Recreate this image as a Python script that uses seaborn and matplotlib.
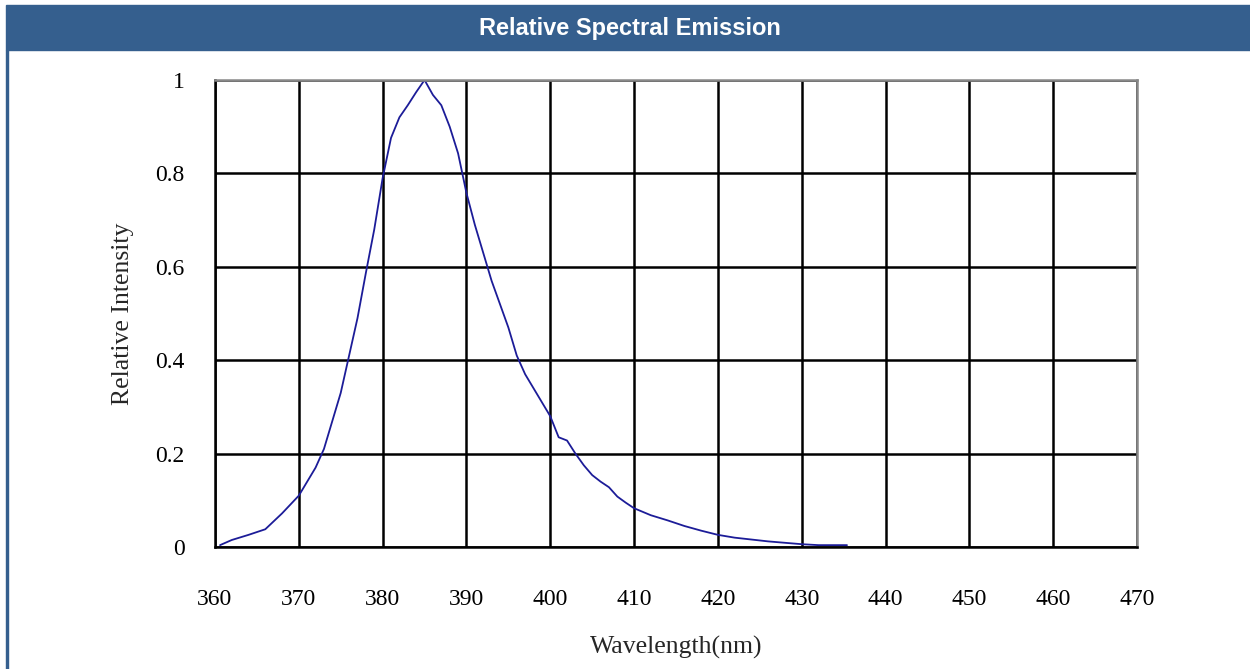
import matplotlib
matplotlib.use("Agg")
import matplotlib.pyplot as plt
from matplotlib.patches import Rectangle
import pandas as pd
import seaborn as sns

# 数据
wavelength = [360.6, 362, 364, 366, 368, 370, 372, 373, 374, 375, 376, 377, 378, 379,
              380, 381, 382, 383, 384, 385, 386, 387, 388, 389, 390, 391, 392, 393,
              394, 395, 396, 397, 398, 399, 400, 401, 402, 403, 404, 405, 406, 407,
              408, 409, 410, 412, 414, 416, 418, 420, 422, 424, 426, 428, 430, 432, 435.4]
intensity = [0.004, 0.015, 0.026, 0.038, 0.072, 0.11, 0.17, 0.21, 0.27, 0.33, 0.41, 0.49, 0.587, 0.68,
             0.79, 0.876, 0.92, 0.946, 0.974, 1.0, 0.968, 0.946, 0.90, 0.843, 0.758, 0.69, 0.63, 0.57,
             0.52, 0.47, 0.41, 0.37, 0.34, 0.31, 0.28, 0.235, 0.228, 0.20, 0.175, 0.154, 0.14, 0.128,
             0.108, 0.095, 0.083, 0.068, 0.057, 0.045, 0.035, 0.026, 0.02, 0.016, 0.012, 0.009, 0.006, 0.004, 0.004]
x_ticks = list(range(360, 471, 10))
y_ticks = [0, 0.2, 0.4, 0.6, 0.8, 1]
y_tick_labels = ["0", "0.2", "0.4", "0.6", "0.8", "1"]

df = pd.DataFrame({"Wavelength": wavelength, "Intensity": intensity})

sns.set_style("white")
plt.rcParams["font.family"] = ["Liberation Serif", "DejaVu Serif"]

fig = plt.figure(figsize=(12.5, 6.69), dpi=100)
header_blue = "#355F8E"

# 标题栏
fig.patches.append(Rectangle((6 / 1250, 1 - 50 / 669), 1 - 6 / 1250, 45 / 669,
                             transform=fig.transFigure, color=header_blue, zorder=0))
fig.patches.append(Rectangle((6 / 1250, 0), 2 / 1250, 1 - 50 / 669,
                             transform=fig.transFigure, color=header_blue, zorder=0))
fig.text(0.504, 1 - 29 / 669, "Relative Spectral Emission", ha="center", va="center",
         color="white", fontsize=17, fontweight="bold", family=["Liberation Sans", "DejaVu Sans"])

ax = fig.add_axes([215 / 1250, 1 - 547 / 669, 922 / 1250, 467 / 669])
sns.lineplot(data=df, x="Wavelength", y="Intensity", ax=ax, color="#1c1c98", linewidth=1.3)

ax.set_xlim(360, 470)
ax.set_ylim(0, 1)
ax.set_xticks(x_ticks)
ax.set_yticks(y_ticks)
ax.set_yticklabels(y_tick_labels)
ax.grid(True, color="black", linewidth=1.8)
ax.set_axisbelow(True)
for side in ["left", "bottom"]:
    ax.spines[side].set_color("black")
    ax.spines[side].set_linewidth(1.8)
for side in ["top", "right"]:
    ax.spines[side].set_color("#888888")
    ax.spines[side].set_linewidth(1.8)
ax.tick_params(axis="both", length=0, labelsize=17, colors="black")
ax.tick_params(axis="x", pad=30)
ax.tick_params(axis="y", pad=22)

ax.set_xlabel("Wavelength(nm)", fontsize=18.5, labelpad=19)
ax.set_ylabel("Relative Intensity", fontsize=18.5, labelpad=15)

plt.savefig("out.png", dpi=100)
plt.close()
